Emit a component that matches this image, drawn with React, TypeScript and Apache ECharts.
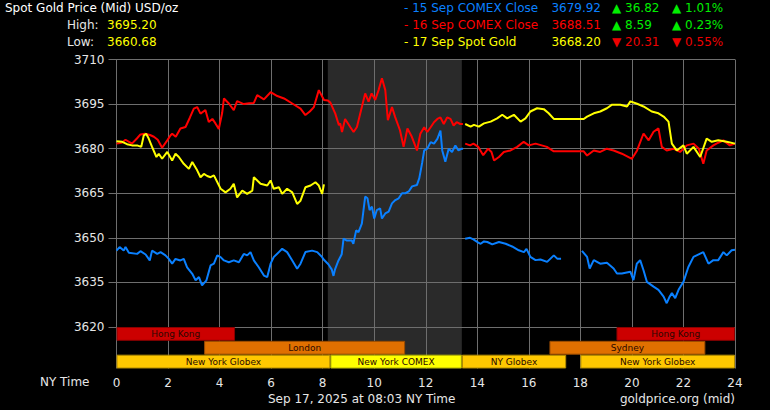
import React, { useEffect, useRef } from 'react';
import * as echarts from 'echarts';

// ---------- data ----------
const priceMin = 3620;
const priceMax = 3710;
const priceStep = 15;
const hourMin = 0;
const hourMax = 24;
const hourStep = 2;

const seriesNames = ['15 Sep COMEX Close', '16 Sep COMEX Close', '17 Sep Spot Gold'];
const seriesColors = ['#0a80ff', '#ff0000', '#ffff00'];

// [hour (NY time), price]; null marks a break in the line
const comex15Close: (number | null)[][] = [
  [0, 3645.7], [0.12, 3646.9], [0.28, 3645.7], [0.35, 3646.9], [0.48, 3645], [0.8, 3644.6], [0.93, 3645.5],
  [1.13, 3644.4], [1.29, 3642.4], [1.38, 3645.7], [1.58, 3644.6], [1.71, 3645.2], [1.9, 3644.1], [2.03, 3642.9],
  [2.16, 3641.3], [2.29, 3642.9], [2.48, 3642.4], [2.61, 3642.9], [2.74, 3640.1], [2.94, 3637.9], [3.07, 3635.7],
  [3.2, 3636.8], [3.32, 3634], [3.49, 3635.7], [3.65, 3640.7], [3.78, 3641.3], [3.91, 3644.1], [4.04, 3643.5],
  [4.17, 3642.4], [4.36, 3641.8], [4.55, 3642.4], [4.75, 3641.8], [4.94, 3644.6], [5.07, 3644.1], [5.2, 3645.2],
  [5.33, 3642.4], [5.52, 3640.1], [5.72, 3637.3], [5.85, 3636.8], [5.98, 3641.3], [6.1, 3643.5], [6.3, 3645.2],
  [6.43, 3646.3], [6.62, 3645.2], [6.82, 3642.4], [7.01, 3639.6], [7.14, 3641.3], [7.33, 3645.2], [7.59, 3645.7],
  [7.79, 3645.2], [7.98, 3643.5], [8.03, 3642.8], [8.22, 3641.1], [8.35, 3639.4], [8.42, 3637.2], [8.48, 3639.4],
  [8.61, 3642.3], [8.74, 3644.5], [8.81, 3649.7], [8.94, 3649.1], [9.13, 3649.1], [9.19, 3648], [9.3, 3652.5],
  [9.39, 3651.9], [9.52, 3654.8], [9.65, 3663.9], [9.74, 3663.3], [9.82, 3659.3], [9.91, 3660.5], [10, 3656.5],
  [10.1, 3659.3], [10.23, 3659.9], [10.3, 3656.5], [10.43, 3658.2], [10.56, 3658.8], [10.69, 3661.6], [10.82, 3662.7],
  [10.95, 3663.3], [11.08, 3665], [11.21, 3665], [11.34, 3665.6], [11.47, 3667.3], [11.66, 3667.8], [11.75, 3670.1],
  [11.86, 3675.2], [11.94, 3679.4], [12.06, 3680], [12.19, 3682.2], [12.32, 3681.7], [12.45, 3683.3], [12.57, 3686.1],
  [12.64, 3679.4], [12.76, 3675.6], [12.89, 3680], [13.02, 3678.9], [13.15, 3681.1], [13.27, 3679.4], [13.4, 3680],
  [13.45, 3680], [13.48, null],
  [13.53, 3649.7], [13.72, 3650], [13.85, 3649.5], [14.04, 3648.4], [14.13, 3648], [14.26, 3648.8], [14.39, 3648.6],
  [14.58, 3647.8], [14.84, 3648.6], [15.1, 3648], [15.35, 3647.1], [15.61, 3645.8], [15.81, 3645.2], [15.91, 3646.3],
  [16.06, 3643.6], [16.26, 3642.5], [16.45, 3642.7], [16.71, 3641.9], [16.97, 3644.1], [17.1, 3643], [17.25, 3643],
  [17.6, null],
  [18.06, 3645.6], [18.26, 3643.6], [18.36, 3639.7], [18.52, 3642.5], [18.77, 3641.3], [19.03, 3641.6], [19.29, 3639.7],
  [19.42, 3638], [19.61, 3638], [19.94, 3638.6], [20.06, 3635.8], [20.19, 3641.3], [20.32, 3642.5], [20.45, 3639.1],
  [20.58, 3635.2], [20.84, 3633.6], [21.03, 3632.5], [21.23, 3630.2], [21.35, 3628], [21.45, 3630], [21.55, 3631.4],
  [21.68, 3629.7], [21.81, 3632.5], [22, 3635.2], [22.19, 3640.2], [22.39, 3643.6], [22.65, 3644.7], [22.77, 3645.2],
  [22.97, 3641.3], [23.16, 3642.5], [23.35, 3642.5], [23.55, 3645.2], [23.68, 3644.1], [23.87, 3645.8], [24, 3646],
];

const comex16Close: (number | null)[][] = [
  [0, 3681.7], [0.2, 3682], [0.35, 3683], [0.6, 3681.7], [0.8, 3683.5], [0.93, 3684.8], [1.1, 3685], [1.3, 3684.6],
  [1.45, 3684], [1.6, 3683], [1.77, 3680.3], [1.97, 3682.8], [2.1, 3684.5], [2.16, 3685], [2.3, 3684], [2.48, 3686.8],
  [2.68, 3687.3], [2.85, 3690.5], [3.0, 3693.5], [3.13, 3694], [3.26, 3691.8], [3.45, 3693], [3.58, 3689], [3.72, 3690],
  [3.84, 3688.5], [3.97, 3686.6], [4.1, 3692], [4.17, 3696.9], [4.36, 3695.2], [4.55, 3693], [4.68, 3696], [4.94, 3695],
  [5.15, 3695.3], [5.33, 3695.4], [5.46, 3698], [5.72, 3696.6], [5.98, 3699], [6.24, 3697.7], [6.5, 3696.9],
  [6.82, 3695.2], [7.14, 3693.5], [7.33, 3691.3], [7.5, 3692.5], [7.66, 3694], [7.85, 3699.7], [8.05, 3696.4],
  [8.2, 3696.2], [8.3, 3695.5], [8.49, 3691.8], [8.63, 3687.9], [8.68, 3688.5], [8.75, 3685.6], [8.87, 3690],
  [9.07, 3687.3], [9.2, 3685.6], [9.33, 3687.3], [9.52, 3694], [9.65, 3698.6], [9.78, 3695.8], [9.9, 3698.6],
  [10.04, 3696.4], [10.17, 3699.7], [10.3, 3703.7], [10.43, 3699.7], [10.53, 3689.6], [10.69, 3694], [10.81, 3690.7],
  [11.0, 3686.2], [11.14, 3680.6], [11.29, 3686.8], [11.46, 3684], [11.66, 3679.4], [11.79, 3685], [11.94, 3687.2],
  [12.06, 3685.6], [12.19, 3687.2], [12.32, 3688.9], [12.45, 3690], [12.57, 3690.5], [12.7, 3688.3], [12.83, 3690.5],
  [12.96, 3690], [13.08, 3687.8], [13.2, 3688.9], [13.34, 3688.3], [13.44, 3688.3], [13.48, null],
  [13.53, 3681.7], [13.72, 3681.1], [13.85, 3681.7], [14.04, 3680.6], [14.23, 3677.8], [14.42, 3680], [14.55, 3678.9],
  [14.65, 3676], [14.84, 3677.2], [15.03, 3678.9], [15.29, 3679.4], [15.55, 3680.6], [15.8, 3682.3], [16, 3681.1],
  [16.26, 3681.7], [16.5, 3681.1], [16.7, 3680.6], [16.97, 3679.1], [18.13, 3679.1], [18.26, 3677.7], [18.52, 3679.4],
  [18.77, 3678.9], [19.03, 3680], [19.29, 3679.4], [19.61, 3678.3], [20, 3676.6], [20.2, 3679.4], [20.45, 3685.1],
  [20.65, 3682.8], [20.84, 3685.7], [21.03, 3686.8], [21.16, 3680.6], [21.35, 3679.4], [21.61, 3680], [21.87, 3678.9],
  [22.13, 3681.1], [22.39, 3681.7], [22.6, 3680], [22.77, 3674.9], [22.9, 3679.4], [23.16, 3681.1], [23.35, 3682],
  [23.55, 3682.8], [23.8, 3681.1], [24, 3681.7],
];

const spot17: (number | null)[][] = [
  [0, 3682.5], [0.22, 3682.3], [0.41, 3681.5], [0.6, 3681.1], [0.8, 3681.1], [0.96, 3680.6], [1.06, 3684.5],
  [1.15, 3685], [1.25, 3683.4], [1.38, 3680.6], [1.55, 3677.2], [1.64, 3678.3], [1.77, 3676.6], [1.97, 3678.9],
  [2.16, 3676], [2.29, 3678.3], [2.42, 3677.2], [2.61, 3674.9], [2.81, 3673.2], [2.94, 3675.5], [3.13, 3672.7],
  [3.26, 3670.4], [3.39, 3671.5], [3.52, 3670.8], [3.65, 3670.4], [3.78, 3671], [4.04, 3666.5], [4.23, 3665.3],
  [4.42, 3666.5], [4.55, 3668.2], [4.68, 3663.6], [4.88, 3665.9], [5.07, 3664.8], [5.27, 3665.9], [5.33, 3670.4],
  [5.59, 3668.2], [5.85, 3667.6], [5.98, 3669.3], [6.1, 3666.5], [6.3, 3667], [6.43, 3664.8], [6.62, 3666.5],
  [6.82, 3665.3], [7.01, 3661.4], [7.14, 3662.5], [7.33, 3667], [7.53, 3667.6], [7.72, 3668.7], [7.85, 3667.6],
  [7.98, 3664.8], [8.05, 3668], [8.1, null],
  [13.53, 3688.3], [13.74, 3687.4], [13.87, 3688], [14.06, 3687.4], [14.26, 3688.5], [14.52, 3689.1], [14.77, 3690.2],
  [14.97, 3691.4], [15.16, 3690.2], [15.42, 3691.4], [15.68, 3689.1], [15.87, 3690.2], [16.06, 3692.5], [16.32, 3693.6],
  [16.58, 3693.3], [16.77, 3691.9], [16.97, 3690], [18.13, 3690], [18.26, 3690.8], [18.52, 3691.9], [18.77, 3692.5],
  [19.03, 3693.6], [19.23, 3694.8], [19.55, 3694.8], [19.81, 3694.2], [19.94, 3695.9], [20.2, 3695.1], [20.45, 3694.2],
  [20.77, 3692.5], [21.03, 3691.9], [21.23, 3690.8], [21.42, 3689.1], [21.55, 3681.7], [21.74, 3679.4], [22, 3681.1],
  [22.13, 3678.3], [22.39, 3680.6], [22.65, 3677.2], [22.9, 3683.4], [23.1, 3682.3], [23.35, 3682.8], [23.68, 3682.3],
  [24, 3681.7],
];

const comexShade = [8.2, 13.4];

const sessionNames = ['Hong Kong', 'London', 'New York Globex', 'New York COMEX', 'NY Globex', 'Sydney', 'Hong Kong', 'New York Globex'];
const sessionStart = [0, 3.4, 0, 8.3, 13.4, 16.8, 19.4, 18.0];
const sessionEnd = [4.6, 11.2, 8.3, 13.4, 17.45, 22.85, 24, 24];
const sessionRow = [0, 1, 2, 2, 2, 1, 0, 2];
const sessionColor = ['#cc0000', '#e07000', '#ffc800', '#ffff00', '#ffc800', '#e07000', '#cc0000', '#ffc800'];
const sessionStroke = ['#8a0000', '#9a4c00', '#b08a00', '#b0b000', '#b08a00', '#9a4c00', '#8a0000', '#b08a00'];

const legendValues = ['3679.92', '3688.51', '3668.20'];
const legendChanges = ['36.82', '8.59', '20.31'];
const legendPcts = ['1.01%', '0.23%', '0.55%'];
const legendUp = [true, true, false];
const highValue = '3695.20';
const lowValue = '3660.68';
const titleText = 'Spot Gold Price (Mid) USD/oz';
const dateText = 'Sep 17, 2025 at 08:03 NY Time';
const sourceText = 'goldprice.org (mid)';

// ---------- chart ----------
const FONT = '"DejaVu Sans", Verdana, sans-serif';
const GRID_COLOR = '#6e6e6e';
const BAND_TEXT = '#2a0800';

function txt(text: string, x: number, y: number, fill: string, align = 'left') {
  return {
    type: 'text',
    x,
    y,
    style: {
      text,
      fill,
      font: `12px ${FONT}`,
      textAlign: align,
      textVerticalAlign: 'middle',
      align,
      verticalAlign: 'middle',
    },
  };
}

export default function App() {
  const ref = useRef<HTMLDivElement>(null);

  useEffect(() => {
    if (!ref.current) return;
    const chart = echarts.init(ref.current, null, { renderer: 'svg' });

    const graphics: any[] = [
      txt(titleText, 5, 8, '#ffffff'),
      txt('High:', 67, 25, '#e6e6e6'),
      txt(highValue, 107, 25, '#ffff00'),
      txt('Low:', 67, 42, '#e6e6e6'),
      txt(lowValue, 107, 42, '#ffff00'),
      txt('NY Time', 40, 382, '#e6e6e6'),
      txt(dateText, 268, 399, '#e6e6e6'),
      txt(sourceText, 735, 399, '#e6e6e6', 'right'),
    ];
    const rowY = [7.5, 24.5, 41.5];
    seriesNames.forEach((name, i) => {
      const chColor = legendUp[i] ? '#00ee00' : '#ee0000';
      const arrow = legendUp[i] ? '\u25B2' : '\u25BC';
      graphics.push(txt('- ' + name, 404, rowY[i], seriesColors[i]));
      graphics.push(txt(legendValues[i], 601, rowY[i], seriesColors[i], 'right'));
      graphics.push(txt(arrow + ' ' + legendChanges[i], 612, rowY[i], chColor));
      graphics.push(txt(arrow + ' ' + legendPcts[i], 672, rowY[i], chColor));
    });

    const lineSeries = [comex15Close, comex16Close, spot17].map((d, i) => ({
      name: seriesNames[i],
      type: 'line',
      xAxisIndex: 0,
      yAxisIndex: 0,
      data: d,
      showSymbol: false,
      connectNulls: false,
      lineStyle: { color: seriesColors[i], width: 2 },
      itemStyle: { color: seriesColors[i] },
      z: 4,
      silent: true,
    }));

    const shadeRender = (params: any, api: any) => {
      const cs = params.coordSys;
      const x1 = api.coord([api.value(0), 0])[0];
      const x2 = api.coord([api.value(1), 0])[0];
      return {
        type: 'rect',
        shape: { x: x1, y: cs.y, width: x2 - x1, height: cs.height },
        style: { fill: '#2a2a2a' },
      };
    };

    const sessionData = sessionNames.map((_, i) => [sessionStart[i], sessionEnd[i], sessionRow[i]]);

    const option: any = {
      animation: false,
      backgroundColor: '#000000',
      textStyle: { fontFamily: FONT },
      grid: [
        { left: 116.5, right: 35, top: 59.5, height: 267.5 },
        { left: 116.5, right: 35, top: 327, height: 41.5 },
      ],
      xAxis: [
        {
          type: 'value', gridIndex: 0, min: hourMin, max: hourMax, interval: hourStep, z: 1,
          axisLine: { show: false }, axisTick: { show: false }, axisLabel: { show: false },
          splitLine: { show: true, lineStyle: { color: GRID_COLOR, width: 1 } },
        },
        {
          type: 'value', gridIndex: 1, min: hourMin, max: hourMax, interval: hourStep, z: 1,
          axisLine: { show: false },
          axisTick: { show: true, length: 2, lineStyle: { color: GRID_COLOR } },
          axisLabel: { show: true, color: '#e6e6e6', fontSize: 12, fontFamily: FONT, margin: 8 },
          splitLine: { show: true, lineStyle: { color: GRID_COLOR, width: 1 } },
        },
      ],
      yAxis: [
        {
          type: 'value', gridIndex: 0, min: priceMin, max: priceMax, interval: priceStep, z: 1,
          axisLine: { show: true, lineStyle: { color: GRID_COLOR } },
          axisTick: { show: true, length: 8, lineStyle: { color: GRID_COLOR } },
          axisLabel: {
            color: '#e6e6e6', fontSize: 12, fontFamily: FONT, margin: 12,
            formatter: (v: number) => String(v),
          },
          splitLine: { show: true, lineStyle: { color: GRID_COLOR, width: 1 } },
        },
        {
          type: 'value', gridIndex: 1, min: 0, max: 3, inverse: true, show: false,
          splitLine: { show: false },
        },
      ],
      series: [
        {
          type: 'custom', xAxisIndex: 0, yAxisIndex: 0, z: 0.5, silent: true,
          data: [comexShade], renderItem: shadeRender,
        },
        {
          type: 'custom', xAxisIndex: 1, yAxisIndex: 1, z: 0.5, silent: true,
          data: [comexShade], renderItem: shadeRender,
        },
        {
          type: 'custom', xAxisIndex: 1, yAxisIndex: 1, z: 2, silent: true,
          data: sessionData,
          renderItem: (params: any, api: any) => {
            const i = params.dataIndex;
            const s = api.value(0);
            const e = api.value(1);
            const r = api.value(2);
            const p1 = api.coord([s, r]);
            const p2 = api.coord([e, r + 1]);
            const y = Math.min(p1[1], p2[1]);
            const h = Math.abs(p2[1] - p1[1]);
            return {
              type: 'rect',
              shape: { x: p1[0] + 0.5, y: y + 0.5, width: p2[0] - p1[0] - 1, height: h - 1 },
              style: { fill: sessionColor[i], stroke: sessionStroke[i], lineWidth: 1 },
              textContent: {
                type: 'text',
                style: { text: sessionNames[i], fill: BAND_TEXT, stroke: 'none', lineWidth: 0, font: `9px ${FONT}` },
              },
              textConfig: { position: 'inside', insideFill: BAND_TEXT, insideStroke: 'none' },
            };
          },
        },
        ...lineSeries,
      ],
      graphic: graphics,
    };

    chart.setOption(option);
    return () => chart.dispose();
  }, []);

  return (
    <div
      ref={ref}
      style={{ position: 'absolute', left: 0, top: 0, width: 770, height: 410, background: '#000' }}
    />
  );
}
